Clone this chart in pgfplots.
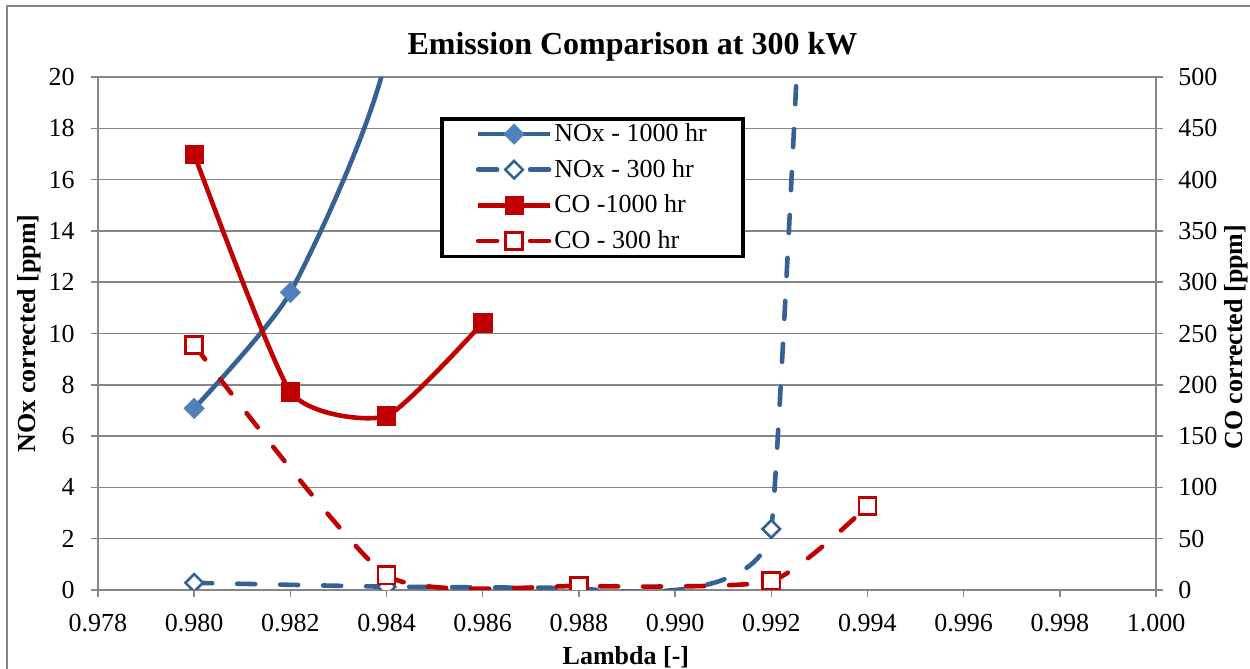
\documentclass[border=0pt]{standalone}
\usepackage{fontspec}
\setmainfont{Liberation Serif}
\usepackage{pgfplots}
\pgfplotsset{compat=1.18}

\definecolor{noxblue}{RGB}{54,97,148}
\definecolor{noxfill}{RGB}{79,129,189}
\definecolor{cored}{RGB}{192,0,0}
\definecolor{gridgray}{RGB}{134,134,134}

\newcommand{\tickfont}{\fontsize{13}{15}\selectfont}
\newcommand{\labfont}{\fontsize{13}{15}\selectfont\bfseries}

\pgfplotsset{
  base/.style={
    scale only axis, width=529pt, height=256.5pt, at={(0,0)}, anchor=south west,
    xmin=0.978, xmax=1.000,
    xtick={0.978,0.980,0.982,0.984,0.986,0.988,0.990,0.992,0.994,0.996,0.998,1.000},
    tick align=outside, major tick length=3.5pt,
    axis line style={-, gridgray, line width=0.75pt},
    tick style={gridgray, line width=0.75pt},
    ticklabel style={font=\tickfont},
    /pgf/number format/assume math mode=true,
    clip marker paths=true,
    legend image code/.code={\draw[mark repeat=2,mark phase=2,##1] plot coordinates {(0pt,0pt) (18pt,0pt) (36pt,0pt)};},
  },
  noxA/.style={color=noxblue, line width=2.3pt, smooth, tension=0.33,
    mark=square*, mark size=3.6pt,
    mark options={solid, rotate=45, fill=noxfill, draw=noxfill, line width=0.3pt}},
  noxB/.style={color=noxblue, line width=2.3pt, smooth, tension=0.33,
    dash pattern=on 9pt off 12.5pt, line cap=round,
    mark=square*, mark size=3.1pt,
    mark options={solid, rotate=45, fill=white, draw=noxblue, line width=1.3pt},
    legend image code/.code={\draw[mark repeat=2,mark phase=2,##1,dash pattern=on 9.5pt off 16.5pt] plot coordinates {(0pt,0pt) (18pt,0pt) (36pt,0pt)};}},
  coA/.style={color=cored, line width=2.3pt, smooth, tension=0.33,
    mark=square*, mark size=4.6pt,
    mark options={solid, fill=cored, draw=cored, line width=0.3pt}},
  coB/.style={color=cored, line width=2.3pt, smooth, tension=0.33,
    dash pattern=on 9pt off 12.5pt, line cap=round,
    mark=square*, mark size=4.3pt,
    mark options={solid, fill=white, draw=cored, line width=1.3pt},
    legend image code/.code={\draw[mark repeat=2,mark phase=2,##1,dash pattern=on 9.5pt off 16.5pt] plot coordinates {(0pt,0pt) (18pt,0pt) (36pt,0pt)};}},
}

\begin{document}
\begin{tikzpicture}
\begin{axis}[base,
  ymin=0, ymax=20, ytick={0,2,...,20},
  axis x line*=bottom, axis y line*=left,
  ymajorgrids, major grid style={gridgray, line width=0.75pt},
  xticklabels={0.978,0.980,0.982,0.984,0.986,0.988,0.990,0.992,0.994,0.996,0.998,1.000},
  xticklabel style={anchor=base, inner sep=0pt, yshift=-17.5pt},
  yticklabel style={anchor=east, inner sep=0pt, xshift=-8pt},
  every axis x label/.style={at={(axis description cs:0.499,-0.1443)}, anchor=base, font=\labfont},
  xlabel={Lambda [-]},
  every axis y label/.style={at={(axis description cs:-0.0595,0.5)}, rotate=90, anchor=base, font=\labfont},
  ylabel={NOx corrected [ppm]},
]
\addplot[noxA] coordinates {(0.980,7.08) (0.982,11.6) (0.984,20.8) (0.986,45)};
% NOx - 300 hr, drawn in two smooth pieces
\addplot[noxB, tension=0.15, mark indices={2}] coordinates {(0.988,0.08) (0.992,2.38) (0.994,80)};
\addplot[noxB] coordinates {(0.980,0.28) (0.984,0.13) (0.988,0.08)};
\end{axis}

\begin{axis}[base,
  ymin=0, ymax=500, ytick={0,50,...,500},
  axis x line=none, axis y line*=right,
  yticklabel style={anchor=west, inner sep=0pt, xshift=7.5pt},
  every axis y label/.style={at={(axis description cs:1.0822,0.493)}, rotate=90, anchor=base, font=\labfont},
  ylabel={CO corrected [ppm]},
  legend cell align=left,
  legend style={at={(axis description cs:0.3233,0.922)}, anchor=north west,
    draw=black, line width=1.75pt, fill=white,
    inner xsep=17pt, inner ysep=1.4pt, row sep=5.3pt,
    nodes={inner sep=1pt}, font=\tickfont,
    /tikz/every even column/.append style={column sep=1.5pt}},
]
\addlegendimage{noxA}
\addlegendentry{NOx - 1000 hr}
\addlegendimage{noxB}
\addlegendentry{NOx - 300 hr}
\addplot[coA] coordinates {(0.980,424.7) (0.982,193.3) (0.984,169.6) (0.986,260.5)};
\addlegendentry{CO -1000 hr}
\addplot[coB] coordinates {(0.980,238.8) (0.984,14.3) (0.988,3.9) (0.992,8.8) (0.994,81.9)};
\addlegendentry{CO - 300 hr}
\end{axis}

\node[anchor=base, font=\fontsize{16}{19}\selectfont\bfseries] at (267.25pt,267.5pt) {Emission Comparison at 300 kW};
\draw[gridgray, line width=0.75pt] (-45.5pt,-60pt) -- (-45.5pt,292pt) -- (620pt,292pt);
\pgfresetboundingbox
\useasboundingbox (-49pt,-39.5pt) rectangle (576pt,295pt);
\end{tikzpicture}
\end{document}
